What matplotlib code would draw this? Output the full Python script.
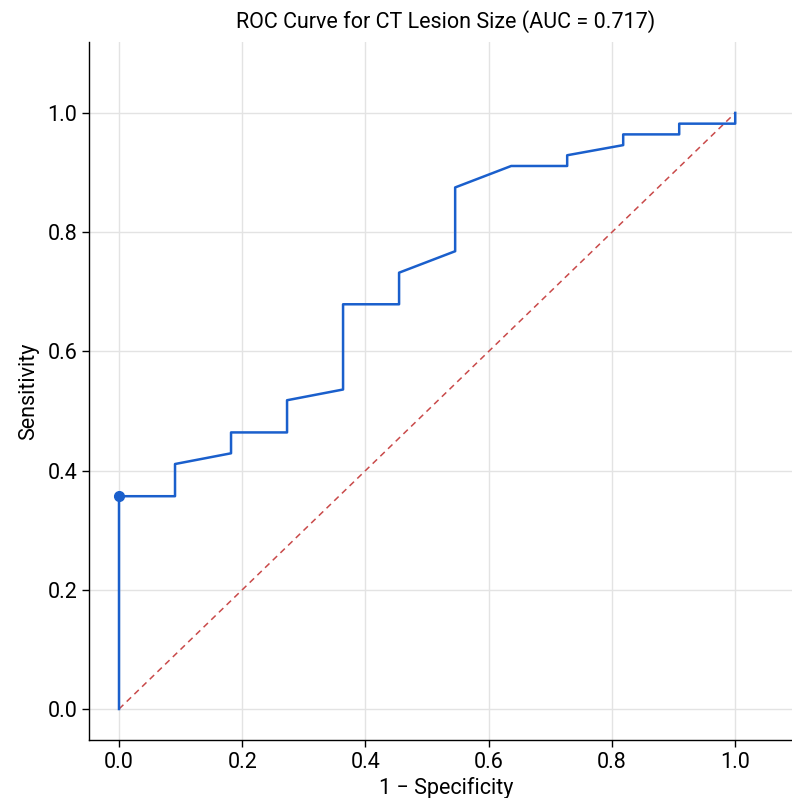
import matplotlib
matplotlib.use("Agg")
import matplotlib.pyplot as plt

# ROC points (1 - specificity, sensitivity)
fpr = [0.0, 0.0, 0.0909, 0.0909, 0.1818, 0.1818, 0.2727, 0.2727, 0.3636, 0.3636,
       0.4545, 0.4545, 0.5455, 0.5455, 0.6364, 0.7273, 0.7273, 0.8182, 0.8182,
       0.9091, 0.9091, 1.0, 1.0]
tpr = [0.0, 0.357, 0.357, 0.411, 0.429, 0.464, 0.464, 0.518, 0.536, 0.679,
       0.679, 0.732, 0.768, 0.875, 0.911, 0.911, 0.929, 0.946, 0.964,
       0.964, 0.982, 0.982, 1.0]
best_point = (0.0, 0.357)
auc = 0.717
ticks = [0.0, 0.2, 0.4, 0.6, 0.8, 1.0]

plt.rcParams['font.family'] = ['Roboto', 'DejaVu Sans']

fig = plt.figure(figsize=(7.92, 7.98), dpi=100)
ax = fig.add_axes([89 / 792, 58 / 798, (803 - 89) / 792, (740 - 42) / 798])

ax.plot([0, 1], [0, 1], linestyle='--', color='#c94a4a', linewidth=1.1, dashes=(4, 3))
ax.plot(fpr, tpr, color='#1a5fcc', linewidth=1.8)
ax.plot(best_point[0], best_point[1], 'o', color='#1a5fcc', markersize=7)

ax.set_xlim(-0.0487, 1.11)
ax.set_ylim(-0.052, 1.119)
ax.set_xticks(ticks)
ax.set_yticks(ticks)
ax.set_xticklabels(['%.1f' % t for t in ticks])
ax.set_yticklabels(['%.1f' % t for t in ticks])
ax.tick_params(labelsize=15.5, length=5, width=1)

ax.grid(True, color='#e3e3e3', linewidth=1)
ax.set_axisbelow(True)
for s in ['top', 'right']:
    ax.spines[s].set_visible(False)
for s in ['left', 'bottom']:
    ax.spines[s].set_linewidth(1)

ax.set_xlabel('1 \u2212 Specificity', fontsize=15.5, labelpad=3)
ax.set_ylabel('Sensitivity', fontsize=15.5, labelpad=6)
ax.set_title('ROC Curve for CT Lesion Size (AUC = %.3f)' % auc, fontsize=15.5, pad=10)

fig.savefig('out.png', dpi=100)
